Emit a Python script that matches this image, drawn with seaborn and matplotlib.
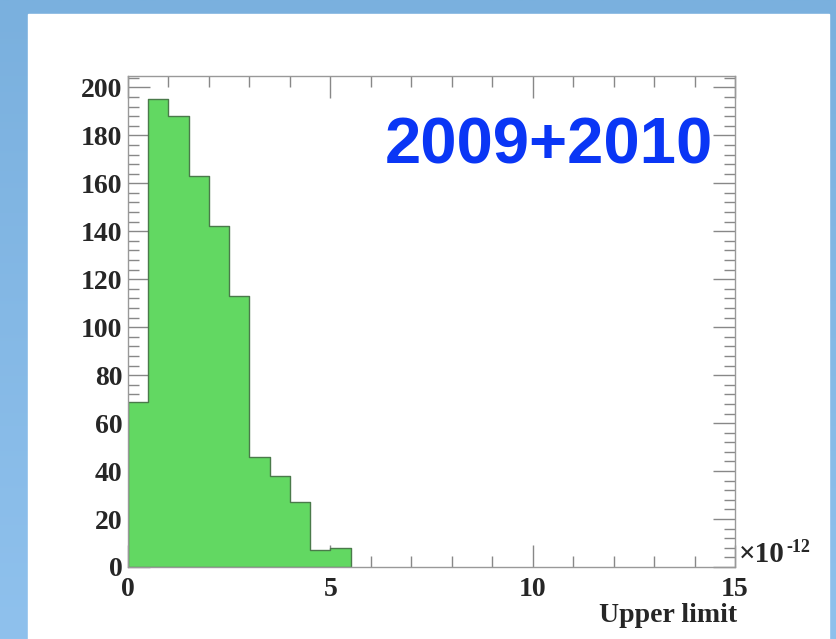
import numpy as np
import pandas as pd
import matplotlib
matplotlib.use("Agg")
import matplotlib.pyplot as plt
from matplotlib.patches import Rectangle
from matplotlib.ticker import MultipleLocator
import seaborn as sns

# ---- data (upper limit in units of 1e-12, bin width 0.5) ----
bin_edges = [0.0, 0.5, 1.0, 1.5, 2.0, 2.5, 3.0, 3.5, 4.0, 4.5, 5.0, 5.5]
counts = [69, 195, 188, 163, 142, 113, 46, 38, 27, 7, 8]
x_ticks = [0, 5, 10, 15]
y_ticks = [0, 20, 40, 60, 80, 100, 120, 140, 160, 180, 200]
label_text = "2009+2010"
x_label = "Upper limit"

centers = [(a + b) / 2 for a, b in zip(bin_edges[:-1], bin_edges[1:])]
df = pd.DataFrame({"x": centers, "w": counts})

sns.set_theme(style="white")
plt.rcParams["font.family"] = ["Liberation Serif", "DejaVu Serif"]

W, H = 837, 639
fig = plt.figure(figsize=(W / 100, H / 100), dpi=100)

# background gradient + white panel
bg = fig.add_axes([0, 0, 1, 1])
grad = np.linspace(0, 1, 256).reshape(-1, 1)
top = np.array([122, 176, 222]) / 255
bot = np.array([143, 193, 237]) / 255
img = top + (bot - top) * grad[:, :, None]
bg.imshow(img, aspect="auto", extent=[0, 1, 0, 1], origin="upper")
bg.add_patch(Rectangle((28 / W, 0), (829 - 28) / W, (H - 14) / H, color="white",
                       transform=bg.transAxes, zorder=2))
bg.set_axis_off()

ax = fig.add_axes([128 / W, 1 - 567 / H, (735 - 128) / W, (567 - 76) / H])
sns.histplot(data=df, x="x", weights="w", bins=bin_edges, element="step",
             fill=True, color="#62d862", alpha=1.0, edgecolor="#4a7a4a",
             linewidth=1.0, ax=ax)
ax.set_xlim(0, 15)
ax.set_ylim(0, 1.05 * max(counts))
ax.set_xlabel("")
ax.set_ylabel("")
ax.set_xticks(x_ticks)
ax.set_yticks(y_ticks)
ax.xaxis.set_minor_locator(MultipleLocator(1))
ax.yaxis.set_minor_locator(MultipleLocator(4))
ax.tick_params(which="both", direction="in", top=True, right=True,
               bottom=True, left=True, color="#888888", width=1)
ax.tick_params(which="major", length=16, labelsize=20, pad=4)
ax.tick_params(which="minor", length=8)
ax.tick_params(axis="x", which="major", pad=7)
for lab in ax.get_xticklabels() + ax.get_yticklabels():
    lab.set_fontweight("bold")
for s in ax.spines.values():
    s.set_color("#999999")
    s.set_linewidth(1.0)
ax.set_facecolor("white")

fig.text(549 / W, 1 - 163 / H, label_text, ha="center", va="baseline",
         fontsize=47, fontweight="bold", color="#0a36f5",
         family=["Liberation Sans", "DejaVu Sans"])

fig.text(737 / W, 1 - 615 / H, x_label, ha="right", va="center",
         fontsize=20, fontweight="bold")
fig.text(739 / W, 1 - 555 / H, "\u00d710", ha="left", va="center",
         fontsize=21, fontweight="bold")
fig.text(786 / W, 1 - 548 / H, "-12", ha="left", va="center",
         fontsize=13, fontweight="bold")

fig.savefig("out.png", dpi=100)
